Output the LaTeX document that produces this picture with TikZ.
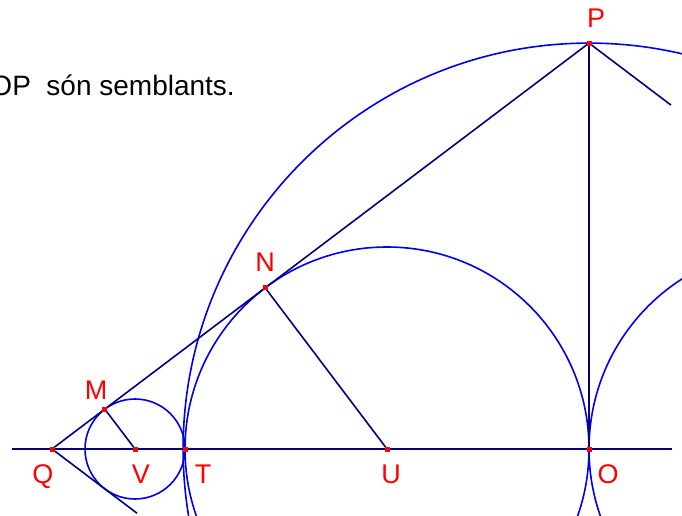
\documentclass[tikz,border=0pt]{standalone}
\usepackage{fontspec}
\setmainfont{Liberation Sans}
\usetikzlibrary{calc}
\definecolor{navy}{RGB}{0,0,128}
\definecolor{cblue}{RGB}{0,0,235}
\definecolor{lred}{RGB}{255,0,0}
\tikzset{
  seg/.style={draw=navy, line width=1.6pt},
  circ/.style={draw=cblue, line width=1.6pt},
  ptmark/.style={fill=lred},
  lab/.style={text=lred, font=\fontsize{27}{30}\selectfont, inner sep=0pt, anchor=base},
}
\begin{document}
\begin{tikzpicture}[x=1pt,y=-1pt]
\useasboundingbox (0,0) rectangle (682,516);
\clip (0,0) rectangle (682,516);
% key points
\coordinate (Q) at (52,449);
\coordinate (V) at (135,449);
\coordinate (T) at (185,449);
\coordinate (U) at (387,449);
\coordinate (O) at (589,449);
\coordinate (P) at (589,43.1);
\coordinate (N) at (265.2,287.85);
\coordinate (M) at (104.8,409.1);
\coordinate (AL) at (12,449);
\coordinate (AR) at (672,449);
\coordinate (Qd) at (137,513.2);
\coordinate (Pr) at (671,105.1);
\coordinate (U2) at (791,449);
% circles
\draw[circ] (O) circle[radius=405.9pt];
\draw[circ] (U) circle[radius=202pt];
\draw[circ] (U2) circle[radius=202pt];
\draw[circ] (V) circle[radius=50pt];
% lines
\draw[seg] (AL) -- (AR);
\draw[seg] (Q) -- (P);
\draw[seg] (Q) -- (Qd);
\draw[seg] (P) -- (Pr);
\draw[seg] (P) -- (O);
\draw[seg] (M) -- (V);
\draw[seg] (N) -- (U);
% point marks
\foreach \p in {Q,V,T,U,O,P,N,M}
  \fill[ptmark] ($(\p)+(-2.5,-2.5)$) rectangle ($(\p)+(2.5,2.5)$);
% labels
\node[lab] (lP) at (596,28) {P};
\node[lab] (lQ) at (43,483) {Q};
\node[lab] (lV) at (141,483) {V};
\node[lab] (lT) at (203,483) {T};
\node[lab] (lU) at (391,483) {U};
\node[lab] (lO) at (608,483) {O};
\node[lab] (lM) at (96,399) {M};
\node[lab] (lN) at (265,271) {N};
% text
\node[inner sep=0pt, anchor=base east, font=\fontsize{28}{32}\selectfont] (txt) at (235,96) {OP\ \ són semblants.};
\end{tikzpicture}
\end{document}
